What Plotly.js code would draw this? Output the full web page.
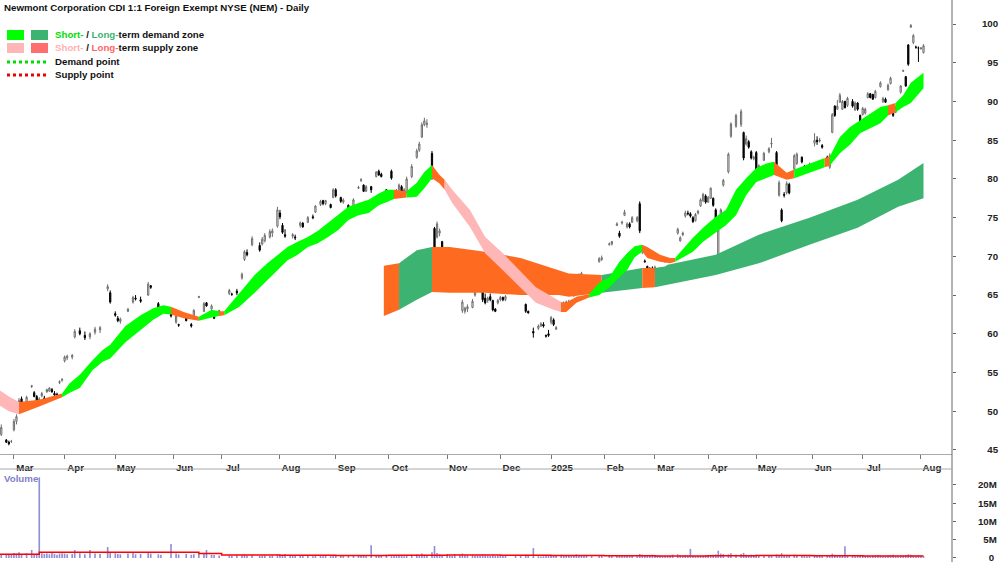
<!DOCTYPE html>
<html><head><meta charset="utf-8">
<script src="https://cdn.plot.ly/plotly-3.0.1.min.js"></script>
<style>html,body{margin:0;padding:0;background:#fff}#chart{width:1000px;height:562px}</style>
</head><body><div id="chart"></div>
<script>
// ---------- candle data (ASX daily, A$) ----------
const cDates = [
 '2024-02-23','2024-02-27','2024-02-28','2024-02-29',
 '2024-03-01','2024-03-04','2024-03-05','2024-03-06','2024-03-08','2024-03-12','2024-03-13','2024-03-14','2024-03-15','2024-03-18','2024-03-19','2024-03-20','2024-03-21','2024-03-22','2024-03-25','2024-03-26','2024-03-27','2024-03-28',
 '2024-04-02','2024-04-03','2024-04-05','2024-04-08','2024-04-10','2024-04-12','2024-04-16','2024-04-18','2024-04-22','2024-04-26','2024-04-29',
 '2024-05-01','2024-05-02','2024-05-03','2024-05-08','2024-05-10','2024-05-13','2024-05-15','2024-05-20','2024-05-21','2024-05-24','2024-05-27','2024-05-31',
 '2024-06-04','2024-06-05','2024-06-11','2024-06-13','2024-06-14','2024-06-18','2024-06-20','2024-06-21','2024-06-25','2024-06-26','2024-06-28',
 '2024-07-04','2024-07-05','2024-07-09','2024-07-11','2024-07-12','2024-07-15','2024-07-17','2024-07-22','2024-07-23','2024-07-24','2024-07-26','2024-07-29','2024-07-31',
 '2024-08-01','2024-08-02','2024-08-05','2024-08-07','2024-08-08','2024-08-09','2024-08-13','2024-08-14','2024-08-16','2024-08-20','2024-08-21','2024-08-23','2024-08-26','2024-08-27','2024-08-29','2024-08-30',
 '2024-09-02','2024-09-04','2024-09-05','2024-09-09','2024-09-11','2024-09-13','2024-09-16','2024-09-17','2024-09-18','2024-09-20','2024-09-24','2024-09-25','2024-09-26','2024-09-30',
 '2024-10-02','2024-10-03','2024-10-04','2024-10-07','2024-10-08','2024-10-09','2024-10-10','2024-10-14','2024-10-16','2024-10-17','2024-10-18','2024-10-21','2024-10-22','2024-10-24','2024-10-25','2024-10-28','2024-10-29','2024-10-30',
 '2024-11-01','2024-11-04','2024-11-05','2024-11-06','2024-11-08','2024-11-11','2024-11-12','2024-11-13','2024-11-15','2024-11-18','2024-11-19','2024-11-20','2024-11-21','2024-11-22','2024-11-25','2024-11-26','2024-11-27','2024-11-28','2024-11-29',
 '2024-12-02','2024-12-03','2024-12-04','2024-12-10','2024-12-12','2024-12-16','2024-12-17','2024-12-19','2024-12-23','2024-12-24','2024-12-27','2024-12-30','2024-12-31',
 '2025-01-02','2025-01-03','2025-01-06','2025-01-08','2025-01-09','2025-01-10','2025-01-13','2025-01-14','2025-01-15','2025-01-16','2025-01-17','2025-01-20','2025-01-21','2025-01-22','2025-01-24','2025-01-30','2025-01-31',
 '2025-02-05','2025-02-06','2025-02-10','2025-02-11','2025-02-12','2025-02-13','2025-02-14','2025-02-17','2025-02-18','2025-02-20','2025-02-21','2025-02-24','2025-02-25','2025-02-26','2025-02-27','2025-02-28',
 '2025-03-03','2025-03-04','2025-03-05','2025-03-06','2025-03-07','2025-03-10','2025-03-11','2025-03-12','2025-03-14','2025-03-17','2025-03-18','2025-03-19','2025-03-20','2025-03-21','2025-03-24','2025-03-25','2025-03-26','2025-03-27','2025-03-28','2025-03-31',
 '2025-04-01','2025-04-02','2025-04-03','2025-04-04','2025-04-07','2025-04-08','2025-04-09','2025-04-11','2025-04-14','2025-04-16','2025-04-22','2025-04-23','2025-04-24','2025-04-28','2025-04-29','2025-04-30',
 '2025-05-01','2025-05-02','2025-05-06','2025-05-08','2025-05-09','2025-05-13','2025-05-14','2025-05-15','2025-05-16','2025-05-19','2025-05-20','2025-05-22','2025-05-23','2025-05-27','2025-05-28','2025-05-29','2025-05-30',
 '2025-06-03','2025-06-04','2025-06-05','2025-06-06','2025-06-11','2025-06-12','2025-06-13','2025-06-16','2025-06-17','2025-06-18','2025-06-19','2025-06-20','2025-06-23','2025-06-25','2025-06-26','2025-06-27','2025-06-30',
 '2025-07-01','2025-07-02','2025-07-03','2025-07-04','2025-07-07','2025-07-08','2025-07-09','2025-07-10','2025-07-11','2025-07-14','2025-07-15','2025-07-16','2025-07-17','2025-07-18','2025-07-21','2025-07-22','2025-07-23','2025-07-24','2025-07-25','2025-07-28','2025-07-29','2025-07-30','2025-07-31',
 '2025-08-01','2025-08-04'
];
const cOpen = [
 47.0,46.3,46.0,46.1,
 47.6,48.7,50.6,51.6,51.2,53.2,52.4,51.9,51.4,52.0,51.7,52.5,52.6,52.8,52.3,52.2,53.7,54.0,
 56.5,56.9,57.0,59.6,60.4,59.8,59.6,60.2,60.5,65.8,65.3,
 62.6,62.0,61.6,62.9,64.1,64.6,64.4,65.0,66.2,63.9,63.0,63.1,
 61.5,61.2,62.2,61.2,62.2,64.7,62.9,64.0,63.2,62.8,62.4,
 65.2,65.1,65.5,67.2,69.6,70.5,71.5,71.4,71.6,72.0,72.5,73.0,73.9,
 75.6,74.0,72.8,70.4,72.6,72.5,74.0,74.3,74.4,75.1,75.7,76.7,77.2,76.8,76.7,77.6,
 78.6,77.6,77.0,76.6,76.5,78.8,79.8,79.2,78.4,79.0,80.3,81.0,80.6,78.6,
 81.0,78.0,77.7,78.6,79.0,78.3,78.3,80.3,82.8,83.7,85.4,87.0,87.0,83.3,73.6,72.5,73.0,71.9,
 69.4,69.0,69.1,67.9,67.3,63.0,62.9,63.2,63.4,65.0,66.1,66.9,66.5,64.6,64.3,64.8,64.3,63.2,64.0,
 64.4,64.7,64.4,65.4,65.6,63.8,62.9,60.3,60.7,61.0,61.2,59.8,60.0,
 61.5,61.8,60.6,63.0,63.7,63.6,64.0,63.9,64.9,66.5,67.0,67.4,67.4,66.4,66.3,69.3,69.6,
 71.5,71.6,74.0,73.0,74.3,75.3,73.8,74.2,74.4,74.6,76.8,70.6,69.4,68.7,68.4,68.5,
 68.0,67.7,68.0,68.2,69.3,69.4,69.5,68.2,73.0,72.0,72.8,75.2,75.6,75.5,75.0,74.6,75.6,76.5,77.2,77.8,
 77.0,77.5,77.5,76.0,68.4,74.8,79.2,80.9,85.5,86.8,87.0,86.0,84.5,84.8,83.5,82.6,
 83.4,81.0,82.4,83.5,84.5,83.4,77.9,76.0,78.0,78.2,79.3,81.3,82.0,82.8,81.6,81.0,81.4,
 84.6,85.0,84.9,84.3,82.8,81.5,86.0,89.4,89.0,89.9,89.0,90.0,89.5,90.0,88.9,89.8,88.2,
 88.3,88.5,90.5,91.0,90.9,90.5,88.2,91.9,90.0,90.3,91.5,92.3,89.3,88.6,89.3,91.2,93.9,93.2,97.3,99.6,97.6,97.0,96.9,
 96.8,96.3
];
const cHigh = [
 48.3,46.4,46.2,46.3,
 49.0,49.6,51.7,51.9,52.0,53.4,52.6,52.1,51.8,52.5,52.0,52.9,53.1,53.0,52.6,52.4,54.0,54.3,
 57.2,57.3,57.4,60.6,60.8,60.3,60.2,60.9,61.0,66.4,65.6,
 62.9,62.3,62.1,63.3,64.9,65.0,64.8,66.7,66.3,64.1,63.2,63.2,
 62.6,61.3,62.3,61.4,63.2,64.9,64.1,64.1,63.8,62.9,63.1,
 65.8,65.3,65.8,67.9,70.8,70.9,72.6,71.8,72.5,73.0,73.5,73.6,76.4,
 76.0,74.3,73.5,71.3,73.0,72.8,74.5,74.4,75.2,75.4,76.6,77.3,77.3,77.3,76.8,78.8,
 78.8,77.7,77.5,76.7,77.5,79.1,80.1,79.3,79.2,79.1,81.0,81.2,80.8,78.7,
 81.2,78.3,78.7,79.4,79.2,78.8,80.3,81.9,83.9,84.8,87.3,87.9,87.7,83.6,73.8,74.5,73.6,72.0,
 69.6,69.4,69.5,68.0,68.0,64.4,63.5,63.8,64.5,65.9,66.8,67.2,66.8,65.2,64.8,65.2,64.4,63.3,64.5,
 64.9,64.8,65.0,66.0,66.7,63.9,63.0,60.8,61.2,61.5,61.5,59.9,60.5,
 62.3,62.0,61.0,64.0,64.2,64.3,64.4,64.4,65.1,67.4,67.8,68.0,67.5,66.9,66.8,69.9,70.1,
 71.8,72.0,74.4,73.3,74.6,76.0,74.4,74.4,75.2,75.2,77.1,71.4,69.6,68.8,68.6,68.7,
 68.8,67.9,68.6,68.5,69.6,69.7,69.8,68.9,73.7,72.6,73.2,75.9,75.9,75.7,75.2,75.6,76.0,77.5,78.2,78.0,
 77.8,78.9,77.6,76.2,73.6,76.2,80.0,83.4,87.3,88.4,89.0,86.1,85.6,85.0,83.7,83.0,
 83.6,81.9,83.5,84.1,85.3,83.6,79.8,76.2,78.3,79.7,79.5,83.2,83.4,82.9,81.8,81.7,82.1,
 85.9,85.5,85.3,84.5,83.0,83.3,88.5,89.5,90.2,91.1,90.2,90.1,90.6,90.3,90.0,89.9,88.3,
 89.3,89.2,91.2,91.1,91.0,91.5,88.3,92.6,90.6,90.5,92.3,93.2,89.4,89.4,89.9,92.1,94.1,93.3,97.4,100.0,98.7,97.2,97.1,
 97.0,97.4
];
const cLow = [
 46.8,45.9,45.6,45.9,
 47.4,48.3,50.4,50.9,51.0,53.0,51.8,51.0,50.9,51.8,51.4,52.4,52.5,52.4,51.9,51.9,53.5,53.8,
 56.3,56.6,56.7,59.4,59.8,59.2,59.3,59.9,60.1,65.5,63.9,
 62.2,61.5,61.3,62.8,63.9,64.3,64.0,64.9,65.8,63.2,62.6,62.1,
 61.3,60.9,61.6,60.8,62.0,64.6,62.8,63.5,63.0,61.9,62.3,
 65.0,64.9,65.0,67.0,69.4,70.0,71.3,70.6,71.4,71.8,72.3,72.5,73.7,
 74.8,72.9,72.4,70.2,72.3,72.1,73.7,73.7,74.3,74.8,75.6,76.5,76.6,76.6,76.2,77.5,
 77.6,76.9,76.8,75.6,76.3,78.7,79.6,78.3,78.3,78.2,80.2,80.4,80.2,77.3,
 79.9,77.5,77.6,78.4,78.0,78.2,78.2,80.1,82.6,83.5,85.3,86.8,86.6,79.9,70.8,72.3,72.6,70.9,
 68.6,68.7,68.8,66.5,67.1,62.7,62.6,62.8,63.3,64.8,65.9,66.0,64.1,63.8,64.0,64.2,62.9,62.8,63.8,
 64.2,64.2,64.2,65.2,65.3,62.7,62.6,59.5,60.5,60.9,60.8,59.5,59.6,
 61.2,61.0,60.5,62.8,63.4,63.5,63.7,63.8,64.8,66.3,66.7,67.2,66.5,66.1,65.9,69.2,69.4,
 71.4,71.4,73.9,72.4,74.1,75.2,73.6,73.6,74.3,74.4,73.0,70.3,69.2,67.9,67.9,67.8,
 67.9,66.7,67.9,68.0,69.2,69.3,69.4,66.6,72.8,71.9,72.6,75.0,75.3,75.0,74.3,74.5,75.4,76.4,77.0,76.8,
 76.9,77.4,76.4,74.7,68.2,74.6,79.0,80.7,85.3,86.6,86.7,82.4,84.3,83.9,82.5,82.4,
 80.8,80.8,82.3,83.3,84.0,80.8,77.7,74.4,77.6,78.0,78.0,81.1,81.8,82.0,80.8,80.9,81.3,
 84.2,84.4,84.7,83.9,81.9,81.3,85.9,88.0,88.9,89.8,88.9,89.1,89.3,89.2,88.8,88.8,87.2,
 88.2,88.3,90.4,90.4,90.2,90.4,87.5,91.8,89.8,89.8,91.4,92.2,88.0,88.5,89.2,91.0,93.8,91.9,94.6,99.5,97.4,96.8,95.1,
 96.7,96.2
];
const cClose = [
 47.9,46.0,45.8,46.1,
 48.7,49.3,51.4,51.1,51.8,53.3,51.9,51.2,51.6,52.3,51.6,52.8,53.0,52.5,52.1,52.0,53.8,54.1,
 57.0,57.1,57.2,60.3,60.0,59.5,60.0,60.6,60.8,66.1,64.1,
 62.4,61.7,61.9,63.2,64.7,64.5,64.2,66.4,66.0,63.4,62.8,62.3,
 62.3,61.1,61.7,61.0,63.0,64.8,63.9,63.6,63.6,62.0,63.0,
 65.6,65.1,65.3,67.7,70.6,70.2,72.3,70.8,72.2,72.7,73.2,73.3,76.0,
 75.1,73.1,72.6,71.1,72.8,72.4,74.3,73.8,75.0,75.0,76.5,77.1,76.8,77.2,76.3,78.6,
 77.8,77.1,77.3,75.8,77.3,78.9,79.9,78.4,79.0,78.6,80.9,80.5,80.3,77.5,
 80.1,77.7,78.5,79.2,78.2,78.6,80.0,81.6,83.6,84.5,87.0,87.5,87.2,80.2,71.0,74.2,73.3,71.1,
 68.9,69.2,69.0,66.7,67.8,64.1,63.3,63.5,64.2,65.7,66.5,66.3,64.4,64.0,64.6,64.4,63.1,62.9,64.3,
 64.7,64.4,64.8,65.8,66.2,62.9,62.7,60.1,61.0,61.3,61.0,59.7,59.8,
 62.1,61.2,60.8,63.8,63.9,64.1,64.2,64.3,65.0,67.2,67.5,67.8,66.7,66.7,66.6,69.7,69.8,
 71.6,71.9,74.2,72.6,74.4,75.7,74.2,73.8,75.0,75.0,73.3,71.1,69.3,68.0,68.0,67.9,
 68.6,66.9,68.4,68.3,69.5,69.6,69.7,68.7,73.5,72.4,73.0,75.6,75.5,75.2,74.5,75.4,75.8,77.3,78.0,77.0,
 77.6,78.8,76.6,74.9,73.4,76.0,79.8,83.2,87.1,88.2,88.7,82.7,85.2,84.1,82.7,82.8,
 81.0,81.7,83.3,83.9,84.6,81.0,79.5,74.6,77.9,79.4,78.2,83.0,83.2,82.2,81.0,81.5,81.9,
 85.0,84.8,85.0,84.1,82.1,83.0,88.3,88.2,89.4,90.8,90.0,89.2,90.4,89.4,89.8,89.0,87.4,
 89.1,89.0,91.0,90.5,90.3,91.3,87.7,92.4,90.4,89.9,92.1,93.0,88.2,89.2,89.7,92.0,94.0,92.0,94.8,99.8,98.5,97.0,96.9,
 96.9,97.2
];
// volume in millions of shares
const cVolM = [
 0.9,1.1,0.8,1.0,
 1.4,1.2,1.6,1.1,1.3,2.2,1.0,1.2,22.1,1.3,1.1,1.2,1.0,1.4,1.1,0.9,1.2,1.3,
 1.2,1.0,1.1,2.2,1.3,1.0,2.2,1.2,1.1,3.0,1.4,
 1.3,1.1,1.0,1.2,1.4,1.0,1.1,1.5,1.2,1.0,0.9,3.8,
 1.2,1.0,1.1,0.9,1.0,1.2,1.1,2.2,0.9,0.8,0.7,
 0.7,0.6,0.8,0.9,1.0,0.7,0.8,0.6,0.7,0.8,0.6,0.7,1.0,
 0.8,0.9,1.1,0.9,0.7,0.6,0.8,0.6,0.7,0.5,0.7,0.6,0.5,0.6,0.5,0.8,
 0.7,0.6,0.5,0.7,0.6,0.8,0.7,0.6,0.5,3.5,0.8,0.6,0.7,0.9,
 0.8,0.7,0.6,0.7,0.6,0.5,0.8,0.9,1.0,0.8,1.2,0.9,0.8,1.6,3.3,1.4,1.0,0.9,
 1.0,0.8,0.7,1.1,0.8,1.2,0.9,0.8,0.9,0.7,0.8,0.7,1.0,0.8,0.7,0.6,0.8,0.6,0.7,
 0.7,0.6,0.7,0.8,0.7,0.9,0.8,2.7,0.5,0.4,0.5,0.6,0.7,
 0.7,0.6,0.8,0.9,0.6,0.7,0.6,0.5,0.7,1.0,0.8,0.6,0.7,0.6,0.5,0.8,0.7,
 0.6,0.5,0.8,0.7,0.6,0.8,0.7,0.5,0.6,0.5,1.1,0.9,0.7,0.8,0.6,0.9,
 0.7,0.8,0.6,0.5,0.6,0.5,0.6,0.9,1.0,0.7,0.6,0.8,0.7,2.5,0.6,0.5,0.6,0.7,0.6,0.8,
 0.7,0.8,0.9,1.0,2.0,1.2,1.1,1.0,1.3,0.9,1.1,1.4,0.9,0.8,0.9,0.7,
 0.9,0.7,0.8,0.6,0.7,1.0,0.9,1.3,0.8,0.7,0.6,0.9,0.7,0.6,0.7,0.5,0.8,
 0.9,0.7,0.6,0.5,0.8,0.7,1.2,0.9,0.8,0.7,0.6,3.2,0.6,0.7,0.5,0.6,0.8,
 0.7,0.6,0.7,0.5,0.6,0.7,0.8,0.7,0.5,0.6,0.7,0.8,0.9,0.6,0.5,0.7,0.6,0.8,1.0,0.9,0.7,0.6,0.8,
 0.6,0.5
];
// volume moving average (millions)
const maDates = ['2024-02-22','2024-03-15','2024-06-18','2024-07-01','2024-08-01','2024-09-02','2024-10-01','2024-11-01','2024-12-02','2025-01-02','2025-02-03','2025-03-03','2025-04-01','2025-05-01','2025-06-02','2025-07-01','2025-08-04'];
const maVolM  = [1.0,1.55,1.2,0.85,0.75,0.7,0.75,0.8,0.75,0.65,0.6,0.55,0.6,0.65,0.6,0.55,0.55];

// ---------- short-term zone (upper / lower edge, state) ----------
// state: g = short-term demand, p = short-term supply, o = supply (orange)
const sbDates = ['2024-02-22','2024-02-28','2024-03-05','2024-03-15','2024-03-28','2024-04-04','2024-04-10','2024-04-17','2024-04-23','2024-04-29',
 '2024-05-07','2024-05-15','2024-05-22','2024-05-28','2024-05-31','2024-06-07','2024-06-18','2024-06-25','2024-06-28','2024-07-02',
 '2024-07-10','2024-07-18','2024-07-25','2024-07-31','2024-08-06','2024-08-12','2024-08-16','2024-08-22','2024-08-28','2024-09-03',
 '2024-09-09','2024-09-13','2024-09-19','2024-09-25','2024-09-30','2024-10-03','2024-10-10','2024-10-16','2024-10-21','2024-10-24',
 '2024-10-29','2024-10-31','2024-11-05','2024-11-14','2024-11-22','2024-12-03','2024-12-12','2024-12-20','2025-01-03','2025-01-08',
 '2025-01-10','2025-01-16','2025-01-23','2025-01-30','2025-02-05','2025-02-11','2025-02-14','2025-02-19','2025-02-24','2025-02-26',
 '2025-03-05','2025-03-11','2025-03-13','2025-03-24','2025-03-28','2025-04-04','2025-04-10','2025-04-16','2025-04-24','2025-05-01',
 '2025-05-07','2025-05-12','2025-05-19','2025-05-22','2025-05-30','2025-06-10','2025-06-12','2025-06-18','2025-06-24','2025-06-30',
 '2025-07-04','2025-07-10','2025-07-15','2025-07-18','2025-07-23','2025-07-28','2025-08-04'];
const sbUpper = [52.8,51.9,51.2,51.5,52.3,53.6,54.7,56.6,57.9,58.6,
 61.0,62.4,63.3,63.7,63.5,62.8,62.2,63.1,62.9,62.9,
 65.2,67.6,69.1,70.2,71.2,71.9,72.5,73.3,74.3,75.3,
 76.4,76.9,77.3,78.1,78.6,78.6,78.4,79.5,80.9,81.8,
 80.5,79.9,78.6,76.0,72.5,70.4,68.0,66.0,64.7,64.1,
 64.0,64.8,65.1,66.6,67.3,69.3,70.4,71.3,71.5,71.2,
 70.2,69.8,69.8,72.4,73.7,75.1,76.0,78.6,80.1,81.4,
 82.0,82.2,80.8,81.2,82.0,82.7,82.9,85.4,86.7,87.6,
 88.5,89.3,89.5,89.8,90.8,92.4,93.7];
const sbLower = [50.8,50.0,49.6,50.6,51.8,52.4,53.0,55.3,56.4,56.8,
 58.9,60.5,61.8,62.6,62.5,62.0,61.7,62.1,62.3,62.4,
 63.5,65.3,66.9,68.2,69.5,70.2,71.2,71.7,72.5,73.4,
 74.7,75.3,75.6,76.6,77.0,77.4,77.6,77.7,78.8,80.1,
 79.4,78.6,76.9,73.8,70.4,68.2,66.0,64.0,63.1,62.8,
 62.8,64.0,64.7,65.0,66.0,67.3,68.2,69.9,70.6,69.8,
 69.3,69.1,69.3,70.6,71.9,73.1,74.0,75.3,77.9,79.6,
 80.1,80.5,79.9,80.1,80.8,81.5,81.7,83.3,84.4,85.9,
 86.6,87.2,88.2,88.6,89.3,89.8,91.7];
const sbState = ['p','p','o','o','g','g','g','g','g','g',
 'g','g','g','g','o','o','g','g','o','g',
 'g','g','g','g','g','g','g','g','g','g',
 'g','g','g','g','g','o','g','g','g','o',
 'o','p','p','p','p','p','p','p','p','o',
 'o','o','g','g','g','g','g','g','o','o',
 'o','o','g','g','g','g','g','g','g','g',
 'g','o','o','g','g','o','g','g','g','g',
 'g','g','o','g','g','g','g'];

// ---------- long-term zone ----------
// state: G = long-term demand, o = supply (orange)
const lbDates = ['2024-09-27','2024-10-07','2024-10-16','2024-10-24','2024-11-04','2024-11-22','2024-12-12','2025-01-07','2025-01-13','2025-01-31',
 '2025-02-24','2025-03-03','2025-03-07','2025-03-10','2025-04-04','2025-05-02','2025-05-30','2025-06-27','2025-07-21','2025-08-04'];
const lbUpper = [68.8,69.1,70.8,71.2,71.2,70.6,69.8,68.2,67.8,67.6,68.5,68.5,68.7,68.9,70.2,72.8,75.0,77.3,79.9,82.05];
const lbLower = [62.3,63.1,64.4,65.4,65.3,65.3,65.0,65.0,64.8,65.3,65.9,66.0,66.2,66.3,67.6,69.1,71.5,73.7,76.4,77.5];
const lbState = ['o','G','G','o','o','o','o','o','o','G','o','G','G','G','G','G','G','G','G','G'];

// ---------- axis labels ----------
const monthTicks = ['2024-03-01','2024-04-02','2024-05-01','2024-06-03','2024-07-01','2024-08-01','2024-09-02','2024-10-01','2024-11-01','2024-12-02',
 '2025-01-02','2025-02-03','2025-03-03','2025-04-01','2025-05-01','2025-06-02','2025-07-01','2025-08-01'];
const monthLabels = ['Mar','Apr','May','Jun','Jul','Aug','Sep','Oct','Nov','Dec','2025','Feb','Mar','Apr','May','Jun','Jul','Aug'];
const priceTicks = [45,50,55,60,65,70,75,80,85,90,95,100];
const volTicks = [0,5,10,15,20];
const volLabels = ['0','5M','10M','15M','20M'];
const holidays = ['2024-03-29','2024-04-01','2024-04-25','2024-06-10','2024-12-25','2024-12-26','2025-01-01','2025-01-27','2025-04-18','2025-04-21','2025-04-25','2025-06-09'];

// ---------- build ----------
const COLORS = {g:'#00ff00', G:'#3cb371', p:'#ffb6b6', o:'#ff6a21'};
function bandTraces(dates, up, lo, state){
  const out = [];
  let s = 0;
  for (let i = 1; i <= dates.length - 1; i++){
    if (i === dates.length - 1 || state[i] !== state[s]){
      const xs = dates.slice(s, i+1), u = up.slice(s, i+1), l = lo.slice(s, i+1);
      out.push({type:'scatter', mode:'lines', x: xs.concat(xs.slice().reverse()), y: u.concat(l.slice().reverse()),
        fill:'toself', fillcolor: COLORS[state[s]], line:{width:0}, hoverinfo:'skip', showlegend:false, xaxis:'x', yaxis:'y'});
      s = i;
    }
  }
  return out;
}
const FONT = 'Liberation Sans, Arial, Helvetica, sans-serif';
const FS = 9.7;
const pad = v => (String(v).length < 3 ? '\u2007' : '') + v;

const traces = [].concat(
  bandTraces(lbDates, lbUpper, lbLower, lbState),
  bandTraces(sbDates, sbUpper, sbLower, sbState),
  [{type:'candlestick', x:cDates, open:cOpen, high:cHigh, low:cLow, close:cClose,
    increasing:{line:{color:'#6e6e6e', width:1}, fillcolor:'#ffffff'},
    decreasing:{line:{color:'#000000', width:1}, fillcolor:'#000000'},
    whiskerwidth:0, hoverinfo:'skip', showlegend:false, xaxis:'x', yaxis:'y'},
   {type:'bar', x:cDates, y:cVolM, marker:{color:'#8f8fd8', line:{width:0}}, hoverinfo:'skip', showlegend:false, xaxis:'x2', yaxis:'y2'},
   {type:'scatter', mode:'lines', x:maDates, y:maVolM, line:{color:'#ff0000', width:1.5, shape:'hv'}, hoverinfo:'skip', showlegend:false, xaxis:'x2', yaxis:'y2'}]
);

const W = 952, H = 562;
const px = x => x / W, py = y => 1 - y / H;
const rb = [{bounds:['sat','mon']}, {values: holidays}];
const tickFont = {family: FONT, size: FS, color: '#222', weight: 'bold'};

const shapes = [
  {type:'line', xref:'paper', yref:'paper', x0:1, x1:1, y0:0, y1:1, line:{color:'#666', width:1}},
  {type:'line', xref:'paper', yref:'paper', x0:0, x1:1, y0:py(469), y1:py(469), line:{color:'#aaa', width:1}},
  // legend swatches
  {type:'rect', xref:'paper', yref:'paper', x0:px(7), x1:px(24), y0:py(30), y1:py(40), fillcolor:'#00ff00', line:{width:0}},
  {type:'rect', xref:'paper', yref:'paper', x0:px(31), x1:px(48), y0:py(30), y1:py(40), fillcolor:'#3cb371', line:{width:0}},
  {type:'rect', xref:'paper', yref:'paper', x0:px(7), x1:px(24), y0:py(43), y1:py(53), fillcolor:'#ffb6b6', line:{width:0}},
  {type:'rect', xref:'paper', yref:'paper', x0:px(31), x1:px(48), y0:py(43), y1:py(53), fillcolor:'#ff6f6f', line:{width:0}},
  {type:'line', xref:'paper', yref:'paper', x0:px(7), x1:px(46), y0:py(62), y1:py(62), line:{color:'#00dd00', width:3, dash:'dot'}},
  {type:'line', xref:'paper', yref:'paper', x0:px(7), x1:px(46), y0:py(75), y1:py(75), line:{color:'#ee0000', width:3, dash:'dot'}}
];
const ann = (x, y, text, color) => ({xref:'paper', yref:'paper', x:px(x), y:py(y), xanchor:'left', yanchor:'middle', showarrow:false,
  text, font:{family:FONT, size:FS, color: color || '#111', weight:'bold'}});
const annotations = [
  ann(2, 8, 'Newmont Corporation CDI 1:1 Foreign Exempt NYSE (NEM) - Daily'),
  ann(53, 35, '<span style="color:#00dd00">Short-</span> / <span style="color:#3cb371">Long-</span>term demand zone'),
  ann(53, 48, '<span style="color:#ffb0b0">Short-</span> / <span style="color:#ff6666">Long-</span>term supply zone'),
  ann(53, 62, 'Demand point'),
  ann(53, 75, 'Supply point'),
  ann(2, 478, 'Volume', '#8080c8')
];

const layout = {
  width:1000, height:562, margin:{l:0, r:48, t:0, b:0}, paper_bgcolor:'#fff', plot_bgcolor:'#fff',
  showlegend:false, hovermode:false, dragmode:false, boxgap:0.3, bargap:0.35,
  xaxis:{type:'date', domain:[0,1], anchor:'y', range:['2024-02-22 12:00','2025-08-19 06:00'], rangebreaks:rb,
    rangeslider:{visible:false}, tickvals:monthTicks, ticktext:monthLabels, ticks:'outside', ticklen:4, tickcolor:'#777',
    showline:true, linecolor:'#aaa', linewidth:1, showgrid:false, zeroline:false, tickfont:tickFont, ticklabelshift:11, ticklabelstandoff:0},
  xaxis2:{type:'date', domain:[0,1], anchor:'y2', matches:'x', rangebreaks:rb, showticklabels:false, ticks:'', showgrid:false, zeroline:false, showline:false},
  yaxis:{domain:[py(454), 1], anchor:'x', side:'right', range:[44.48, 103.1], tickvals:priceTicks, ticktext:priceTicks.map(pad),
    ticks:'outside', ticklen:3, tickcolor:'#666', showline:false, showgrid:false, zeroline:false, tickfont:tickFont, ticklabelstandoff:24},
  yaxis2:{domain:[py(560), py(469)], anchor:'x2', side:'right', range:[-0.55, 24.38], tickvals:volTicks,
    ticktext:volLabels.map(v => v.length===1 ? '\u2007\u2007'+v : v.length===2 ? '\u2007'+v : v),
    ticks:'outside', ticklen:3, tickcolor:'#666', showline:false, showgrid:false, zeroline:false, tickfont:tickFont,
    ticklabelstandoff:20, ticklabeloverflow:'allow'},
  shapes, annotations
};
Plotly.newPlot('chart', traces, layout, {staticPlot:true, displayModeBar:false});
</script></body></html>
